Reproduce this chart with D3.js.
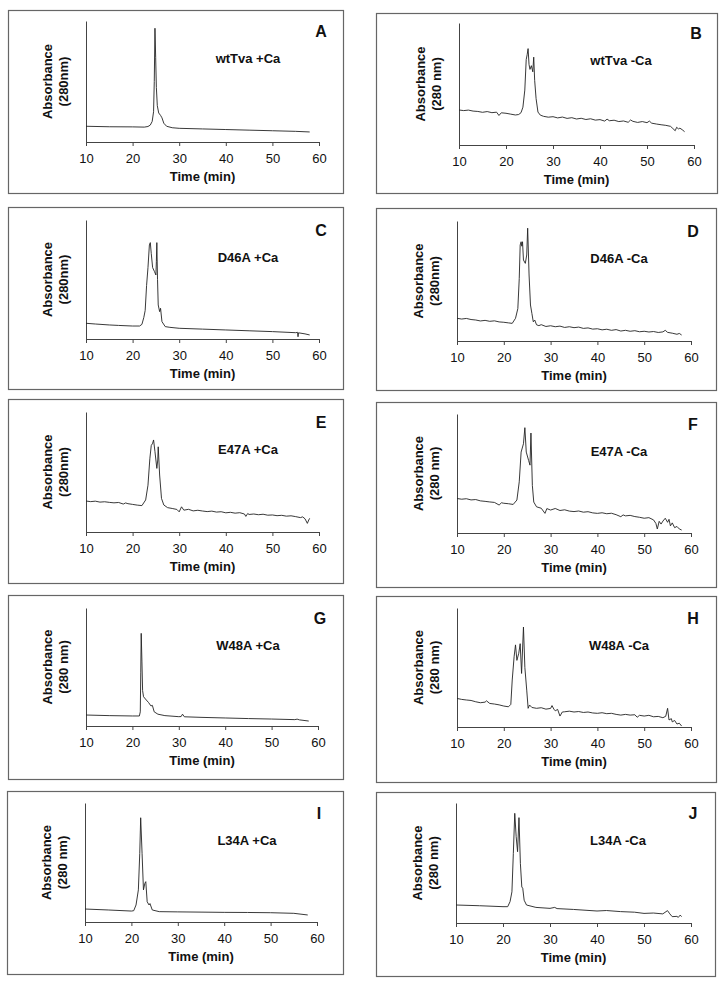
<!DOCTYPE html>
<html>
<head>
<meta charset="utf-8">
<script src="https://cdn.jsdelivr.net/npm/d3@7"></script>
<style>
  html, body { margin: 0; padding: 0; background: #fff; }
  svg { display: block; }
  text { font-family: "Liberation Sans", Arial, sans-serif; fill: #111; }
</style>
</head>
<body>
<svg id="chart" width="723" height="989"></svg>
<script>
// ---------- DATA ----------
const panelLetters = ["A","B","C","D","E","F","G","H","I","J"];
const sampleLabels = ["wtTva +Ca","wtTva -Ca","D46A +Ca","D46A -Ca","E47A +Ca","E47A -Ca","W48A +Ca","W48A -Ca","L34A +Ca","L34A -Ca"];
const yUnitLabels = ["(280nm)","(280 nm)","(280nm)","(280nm)","(280nm)","(280 nm)","(280 nm)","(280 nm)","(280 nm)","(280 nm)"];
const yTitle = "Absorbance";
const xTitle = "Time (min)";
const xTicks = [10,20,30,40,50,60];
const xDomain = [10,60];
const yDomain = [0,100]; // relative absorbance, % of axis height

// traces: [time (min), relative absorbance]
const traceA = [[10,13],[15,12.6],[20,12.5],[22.5,12.3],[23.3,12.8],[23.8,14],[24.2,17],[24.5,25],[24.65,50],[24.8,94],[24.95,70],[25.1,45],[25.3,30],[25.6,24],[26.0,22],[26.3,20],[26.7,15.5],[27.3,13],[28.5,11.8],[30,11.3],[35,10.8],[40,10.3],[45,9.8],[50,9.3],[55,8.8],[58,8.3]];
const traceB = [[10,28.7],[11,28.2],[12,28.6],[13,27.8],[14,27.5],[15,26.8],[16,27.4],[17,26.5],[18,26.9],[18.5,24.2],[19,26.4],[20,26],[21,25.3],[22,24.6],[22.7,25],[23.2,26.5],[23.6,31],[24,45],[24.3,70],[24.5,74],[24.7,79],[24.9,66],[25.1,62],[25.4,65],[25.7,60],[25.9,72],[26.1,53],[26.4,38],[26.8,27],[27.3,24.5],[28,23.5],[29,22.8],[30,23.2],[31,22.2],[32,22.9],[33,21.8],[34,22.4],[35,21.3],[36,21.9],[37,20.9],[38,21.5],[39,20.4],[40,20.8],[41,19.6],[41.5,21.2],[42,19.9],[43,20.3],[44,19.2],[45,19.7],[46,18.6],[46.5,20.5],[47,19.4],[48,18.5],[49,19.2],[50,18.3],[50.5,19.6],[51,17.9],[52,17.2],[53,16.6],[54,16.1],[55,15.3],[55.5,13.5],[56,11.7],[56.3,14.5],[56.7,13.2],[57,13.8],[57.5,12.5],[58,10.9]];
const traceC = [[10,13.2],[12,12.6],[15,11.8],[17,11.4],[20,10.9],[21.5,10.9],[22,12.3],[22.4,18],[22.7,24],[23,45],[23.3,60],[23.6,79],[23.8,81],[24,72],[24.3,60],[24.7,56.6],[25,53.8],[25.1,65],[25.2,81],[25.35,50],[25.5,28.6],[25.8,23],[26,25.8],[26.3,14.6],[27,10.4],[28,9.8],[30,9],[35,8.3],[40,7.6],[45,6.9],[50,6.2],[55,5.3],[55.4,5.6],[55.5,1.9],[55.6,5.2],[57,4.3],[58,3.4]];
const traceD = [[10,18.9],[11,18.3],[12,18.8],[13,17.9],[14,17.5],[15,16.7],[16,17.2],[17,16.4],[18,16.8],[19,15.9],[20,15.6],[21,15.1],[21.8,14.7],[22.5,18.9],[23,27],[23.3,52],[23.5,80],[23.7,82.7],[23.85,79],[24,82.7],[24.2,67.5],[24.6,64.7],[24.9,71.7],[25.1,94],[25.4,55],[25.7,30],[26,23],[26.3,16],[26.6,17.5],[27,13.5],[27.5,12.8],[28,13.6],[29,12.1],[30,12.7],[31,11.9],[32,12.4],[33,11.3],[34,11.9],[35,11.1],[36,11.6],[37,10.5],[38,10.9],[39,9.9],[40,10.2],[41,9.3],[42,9.8],[43,8.9],[44,9.5],[45,8.3],[46,8.9],[47,8.1],[48,8.6],[49,7.7],[50,8.1],[51,7.5],[52,7.9],[53,7.1],[54,7.6],[54.5,8.9],[55,7.2],[56,6.5],[57,5.6],[57.5,6.3],[58,5]];
const traceE = [[10,25.8],[11,25.3],[12,25.7],[13,24.9],[14,25.2],[15,24.7],[16,24.3],[17,24.6],[18,23.3],[18.5,24.2],[19,23.6],[20,23],[21,22.4],[22,22],[22.8,26.7],[23.3,39],[23.7,61],[24,72],[24.3,74],[24.5,76.7],[24.8,67],[25.2,53],[25.4,60],[25.5,71],[25.8,47.5],[26.2,28],[26.7,22.5],[27.5,20.3],[28.5,19.6],[29.5,18.8],[30,16.8],[30.5,21],[31,18.2],[32,18.9],[33,17.6],[34,18.1],[35,17.5],[36,17],[37,17.4],[38,16.6],[39,16.9],[40,16],[41,16.4],[42,15.7],[43,16.1],[44,15],[44.3,13],[44.7,15.4],[45,14.6],[46,15],[47,14.4],[48,14.8],[49,14],[50,14.2],[51,13.6],[52,13.9],[53,13.2],[54,13.5],[55,12.8],[56,12],[56.5,12.6],[57,11],[57.5,7.2],[57.8,10],[58,11.4]];
const traceF = [[10,29],[11,28.4],[12,28.8],[13,27.8],[14,28.1],[15,27],[16,26.6],[17,26.1],[18,25.7],[19,23.5],[19.5,25.4],[20,25],[21,24.6],[22,24],[22.8,27.7],[23.3,43],[23.7,68],[24.2,75],[24.5,88.5],[24.8,68],[25.3,61],[25.6,57],[25.8,84],[26.1,40],[26.4,26],[27,22],[28,20.8],[28.8,16.5],[29.2,20.5],[30,19.3],[31,20.6],[32,18.9],[33,19.5],[34,18.4],[35,18],[36,18.5],[37,17.5],[38,17.9],[39,16.9],[40,16.5],[41,17],[42,16.2],[43,16.6],[44,15.4],[45,13.7],[45.5,15.2],[46,14.4],[47,14.8],[48,13.8],[49,13.2],[50,12.4],[51,12.9],[52,11],[52.5,8],[52.8,3.4],[53.2,9.8],[53.6,7.5],[54,10],[54.5,12.4],[55,9],[55.3,11.5],[55.6,6],[56,8.5],[56.5,4.5],[57,5.5],[57.5,3.4],[58,2.5]];
const traceG = [[10,9.3],[15,8.8],[20,8.5],[21.5,8.5],[21.7,12],[21.8,45],[21.9,78.5],[22.05,55],[22.2,30],[22.4,24.8],[23,22],[23.5,19.8],[24,17],[24.3,17.5],[24.7,12],[25.5,10],[27,8.8],[30,7.9],[30.5,8],[30.8,10],[31.2,7.8],[35,7.3],[40,6.8],[45,6.3],[50,5.9],[55,5.4],[55.5,5.8],[56,5.2],[58,4.2]];
const traceH = [[10,24],[11,23.2],[12,22.7],[13,22.3],[14,21.2],[15,20.4],[16,20.9],[16.3,22],[17,19.8],[18,19.3],[19,18.6],[20,17.6],[21,17],[21.5,19],[21.8,39.5],[22.2,59],[22.5,69],[22.8,56],[23.2,62],[23.5,70],[23.8,45],[24.2,84],[24.5,50],[24.9,31],[25.2,15.7],[25.5,18.5],[26,16.4],[27,15.7],[28,16.2],[29,15],[30,15.6],[30.3,18],[30.7,15],[31,13.6],[31.5,14.8],[32,9.2],[32.5,12.6],[33,12.8],[34,13.3],[35,12.6],[36,13],[37,12.2],[38,12.6],[39,11.8],[40,11.5],[41,12],[42,11.2],[43,11.5],[44,10.6],[45,10],[46,10.6],[47,10],[48,10.3],[48.5,8.2],[49,9.8],[50,9.2],[51,9.8],[52,8.6],[53,8.9],[54,7.8],[54.6,9],[55,15.7],[55.3,5.9],[55.8,7],[56,4.3],[56.5,5.5],[57,2.5],[57.5,3.2],[58,0.8]];
const traceI = [[10,10.9],[15,10.1],[20,9.2],[20.5,9.5],[21,14.3],[21.5,27],[21.8,57.7],[22,87.6],[22.3,57.7],[22.6,27],[22.9,32.5],[23.1,33.9],[23.4,17],[23.8,14.3],[24,15.5],[24.5,10.1],[26,8.7],[30,8.5],[35,8.3],[40,8.1],[45,8],[50,7.8],[55,7.3],[58,5.9]];
const traceJ = [[10,15],[15,14.4],[20,13.6],[21,13.6],[21.5,17.8],[21.9,26],[22.2,58],[22.5,91.4],[22.8,72],[23.1,59.4],[23.4,87.8],[23.7,49.7],[24,30],[24.2,29],[24.5,19],[25,15],[27,13],[30,12.2],[31,13],[31.5,12],[35,11.3],[40,10],[42,10.4],[45,9.5],[48,9],[50,8],[52,8.3],[54,7.6],[55,10.3],[55.5,7.6],[56,5.3],[57,5.5],[57.3,4.7],[57.7,6.6],[58,5.3]];
const traces = [traceA,traceB,traceC,traceD,traceE,traceF,traceG,traceH,traceI,traceJ];

// ---------- LAYOUT ----------
// frame boxes [x0,y0,x1,y1] and plot boxes [left, top, right, bottom]
const frames = [
  [8,10,343,193],[376,13,717,193],
  [8,207,343,389],[376,208,716,390],
  [8,399,343,583],[376,402,716,587],
  [8,595,343,779],[376,596,716,782],
  [7,791,343,974],[376,792,715,976]
];
const plots = [
  [86,21,319,142],[459,23,694,145],
  [86,220,319,339],[457,221,691,341],
  [86,412,319,532],[457,414,691,533],
  [86,608,318,726],[457,608,691,727],
  [85,803,317,922],[456,803,691,923]
];

const svg = d3.select("#chart");
svg.append("rect").attr("width",723).attr("height",989).attr("fill","#fff");

traces.forEach((tr, i) => {
  const f = frames[i], p = plots[i];
  const g = svg.append("g");
  g.append("rect")
    .attr("x", f[0]+0.5).attr("y", f[1]+0.5)
    .attr("width", f[2]-f[0]).attr("height", f[3]-f[1])
    .attr("fill","none").attr("stroke","#666").attr("stroke-width",1.2);

  const x = d3.scaleLinear().domain(xDomain).range([p[0], p[2]]);
  const y = d3.scaleLinear().domain(yDomain).range([p[3], p[1]]);

  const xAxis = g.append("g").attr("transform", `translate(0,${p[3]})`)
    .call(d3.axisBottom(x).tickValues(xTicks).tickSizeInner(4).tickSizeOuter(0).tickPadding(8).tickFormat(d3.format("d")));
  xAxis.select(".domain").attr("stroke","#444");
  xAxis.selectAll(".tick line").attr("stroke","#444");
  xAxis.selectAll(".tick text").attr("font-size",13).attr("fill","#111")
    .attr("font-family","Liberation Sans, Arial, sans-serif");

  const yAxis = g.append("g").attr("transform", `translate(${p[0]},0)`)
    .call(d3.axisLeft(y).tickValues([]).tickSizeOuter(0));
  yAxis.select(".domain").attr("stroke","#444");

  const line = d3.line().x(d => x(d[0])).y(d => y(d[1]));
  g.append("path").datum(tr).attr("d", line)
    .attr("fill","none").attr("stroke","#222").attr("stroke-width",0.9)
    .attr("stroke-linejoin","round");

  // x title
  g.append("text").attr("x", (p[0]+p[2])/2).attr("y", p[3]+39)
    .attr("text-anchor","middle").attr("font-size",13).attr("font-weight","bold").text(xTitle);

  // y titles
  const cy = (p[1]+p[3])/2;
  g.append("text").attr("transform", `translate(${p[0]-39},${cy}) rotate(-90)`)
    .attr("dy","0.35em").attr("text-anchor","middle").attr("font-size",13).attr("font-weight","bold").text(yTitle);
  g.append("text").attr("transform", `translate(${p[0]-23},${cy}) rotate(-90)`)
    .attr("dy","0.35em").attr("text-anchor","middle").attr("font-size",13).attr("font-weight","bold").text(yUnitLabels[i]);

  // sample label
  g.append("text").attr("x", p[0]+162).attr("y", p[1]+42)
    .attr("text-anchor","middle").attr("font-size",13).attr("font-weight","bold").text(sampleLabels[i]);

  // panel letter
  g.append("text").attr("x", p[2]+2).attr("y", p[1]+16)
    .attr("text-anchor","middle").attr("font-size",16).attr("font-weight","bold").text(panelLetters[i]);
});
</script>
</body>
</html>
